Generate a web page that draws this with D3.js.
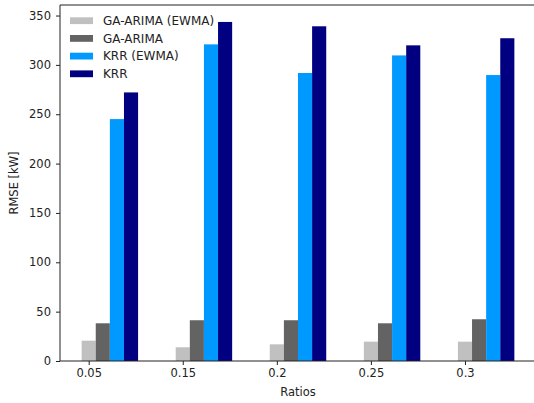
<!DOCTYPE html>
<html><head><meta charset="utf-8">
<script src="https://cdn.jsdelivr.net/npm/d3@7"></script>
<style>body{margin:0;background:#fff}svg{display:block;font-family:"DejaVu Sans",sans-serif}</style>
</head><body>
<svg id="c" width="534" height="403"></svg>
<script>
const categories = ["0.05", "0.15", "0.2", "0.25", "0.3"];
const seriesNames = ["GA-ARIMA (EWMA)", "GA-ARIMA", "KRR (EWMA)", "KRR"];
const gaArimaEwma = [20.6, 13.9, 16.9, 19.6, 19.6];
const gaArima = [38.2, 41.3, 41.3, 38.2, 42.3];
const krrEwma = [245.1, 320.8, 291.8, 309.6, 289.7];
const krr = [272.1, 343.5, 339.1, 319.8, 327.0];
const yTicks = [0, 50, 100, 150, 200, 250, 300, 350];
const colors = ["#c0c0c0", "#636363", "#0099ff", "#000080"];

const series = [gaArimaEwma, gaArima, krrEwma, krr];
const svg = d3.select("#c");
const m = {l: 60, t: 5, r: 536, b: 361};
const w = 0.15;
const n = categories.length;
const x = d3.scaleLinear().domain([-0.075 - 0.23, (n - 1) + 3 * w + 0.075 + 0.23]).range([m.l, m.r]);
const ymax = d3.max(krr) * 1.05;
const y = d3.scaleLinear().domain([0, ymax]).range([m.b, m.t]);

series.forEach((vals, k) => {
  svg.append("g").selectAll("rect").data(vals).join("rect")
    .attr("x", (d, i) => x(i + k * w - w / 2))
    .attr("width", x(w) - x(0))
    .attr("y", d => y(d))
    .attr("height", d => y(0) - y(d))
    .attr("fill", colors[k]);
});

const xAxis = d3.axisBottom(x).tickValues(d3.range(n)).tickFormat(i => categories[i]).tickSizeOuter(0).tickSize(4).tickPadding(4);
const gx = svg.append("g").attr("transform", `translate(0,${m.b})`).call(xAxis);
const yAxis = d3.axisLeft(y).tickValues(yTicks).tickSizeOuter(0).tickSize(4).tickPadding(5);
const gy = svg.append("g").attr("transform", `translate(${m.l},0)`).call(yAxis);
[gx, gy].forEach(g => {
  g.selectAll("text").attr("font-size", "11.5px").attr("fill", "#222").attr("font-family", "DejaVu Sans");
  g.selectAll("line").attr("stroke", "#222");
  g.select(".domain").remove();
});
// spines (right spine falls just outside the canvas, as in the reference)
svg.append("line").attr("x1", m.l).attr("x2", m.l).attr("y1", m.t).attr("y2", m.b).attr("stroke", "#222");
svg.append("line").attr("x1", m.l).attr("x2", m.r).attr("y1", m.b).attr("y2", m.b).attr("stroke", "#222");
svg.append("line").attr("x1", m.l).attr("x2", m.r).attr("y1", m.t).attr("y2", m.t).attr("stroke", "#222");

svg.append("text").attr("x", (m.l + m.r) / 2).attr("y", 396).attr("text-anchor", "middle")
  .attr("font-size", "11.5px").attr("fill", "#222").text("Ratios");
svg.append("text").attr("transform", `translate(18,${(m.t + m.b) / 2}) rotate(-90)`).attr("text-anchor", "middle")
  .attr("font-size", "11.5px").attr("fill", "#222").text("RMSE [kW]");

const lg = svg.append("g");
seriesNames.forEach((s, k) => {
  const cy = 20.7 + k * 17.7;
  lg.append("rect").attr("x", 70).attr("y", cy - 3.4).attr("width", 23).attr("height", 6.8).attr("fill", colors[k]);
  lg.append("text").attr("x", 103).attr("y", cy + 4.3).attr("font-size", "12px").attr("fill", "#222").text(s);
});
</script>
</body></html>
